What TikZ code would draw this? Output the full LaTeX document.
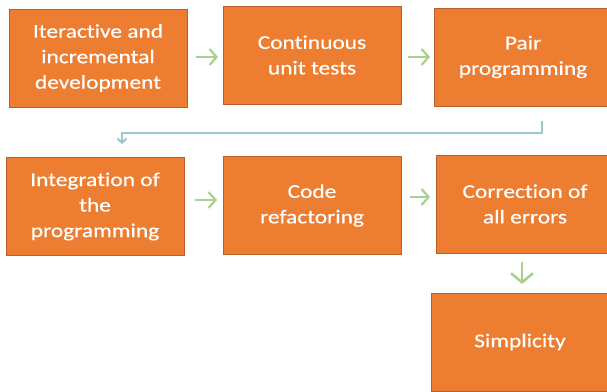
\documentclass[tikz,border=0pt]{standalone}
\usepackage{fontspec}
\newfontfamily\boxfont[FakeStretch=1.2,Ligatures=NoCommon,FakeBold=0.4]{Carlito}
\usetikzlibrary{arrows.meta}
\definecolor{boxorange}{HTML}{ED7D31}
\definecolor{boxedge}{HTML}{B9602A}
\definecolor{arrgreen}{HTML}{A9D18E}
\definecolor{arrblue}{HTML}{9CC6D0}
\tikzset{
  stepbox/.style={draw=boxedge, line width=1pt, fill=boxorange, text=white,
    minimum width=178pt, minimum height=98pt, inner sep=0pt,
    align=center, font=\boxfont\fontsize{19.5}{25.5}\selectfont},
  garrow/.style={draw=arrgreen, line width=2.2pt, -{Straight Barb[length=7pt,width=16pt,line width=2.2pt]}},
  gdarrow/.style={draw=arrgreen, line width=2.6pt, -{Straight Barb[length=9pt,width=22pt,line width=2.6pt]}},
  barrow/.style={draw=arrblue, line width=2pt, -{Straight Barb[length=4pt,width=9pt,line width=2pt]}}
}
\begin{document}
\begin{tikzpicture}[x=1pt,y=-1pt]
\useasboundingbox (0,0) rectangle (607,391);
\node[stepbox] (a) at (98,58) {Iteractive and\\incremental\\development};
\node[stepbox] (b) at (312,55) {Continuous\\unit tests};
\node[stepbox] (c) at (523,57) {Pair\\programming};
\node[stepbox] (d) at (95,206.5) {Integration of\\the\\programming};
\node[stepbox] (e) at (312,205.5) {Code\\refactoring};
\node[stepbox] (f) at (525,204) {Correction of\\all errors};
\node[stepbox] (g) at (520,342) {Simplicity};
\coordinate (c1) at (542,121);
\coordinate (c2) at (542,133);
\coordinate (c3) at (122,133);
\coordinate (c4) at (122,144);
\draw[garrow] (196,57) -- (218,57);
\draw[garrow] (408,57) -- (430,57);
\draw[garrow] (195,200) -- (217,200);
\draw[garrow] (410,197) -- (430,197);
\draw[gdarrow] (522,262) -- (522,284);
\draw[barrow] (c1) -- (c2) -- (c3) -- (c4);
\end{tikzpicture}
\end{document}
